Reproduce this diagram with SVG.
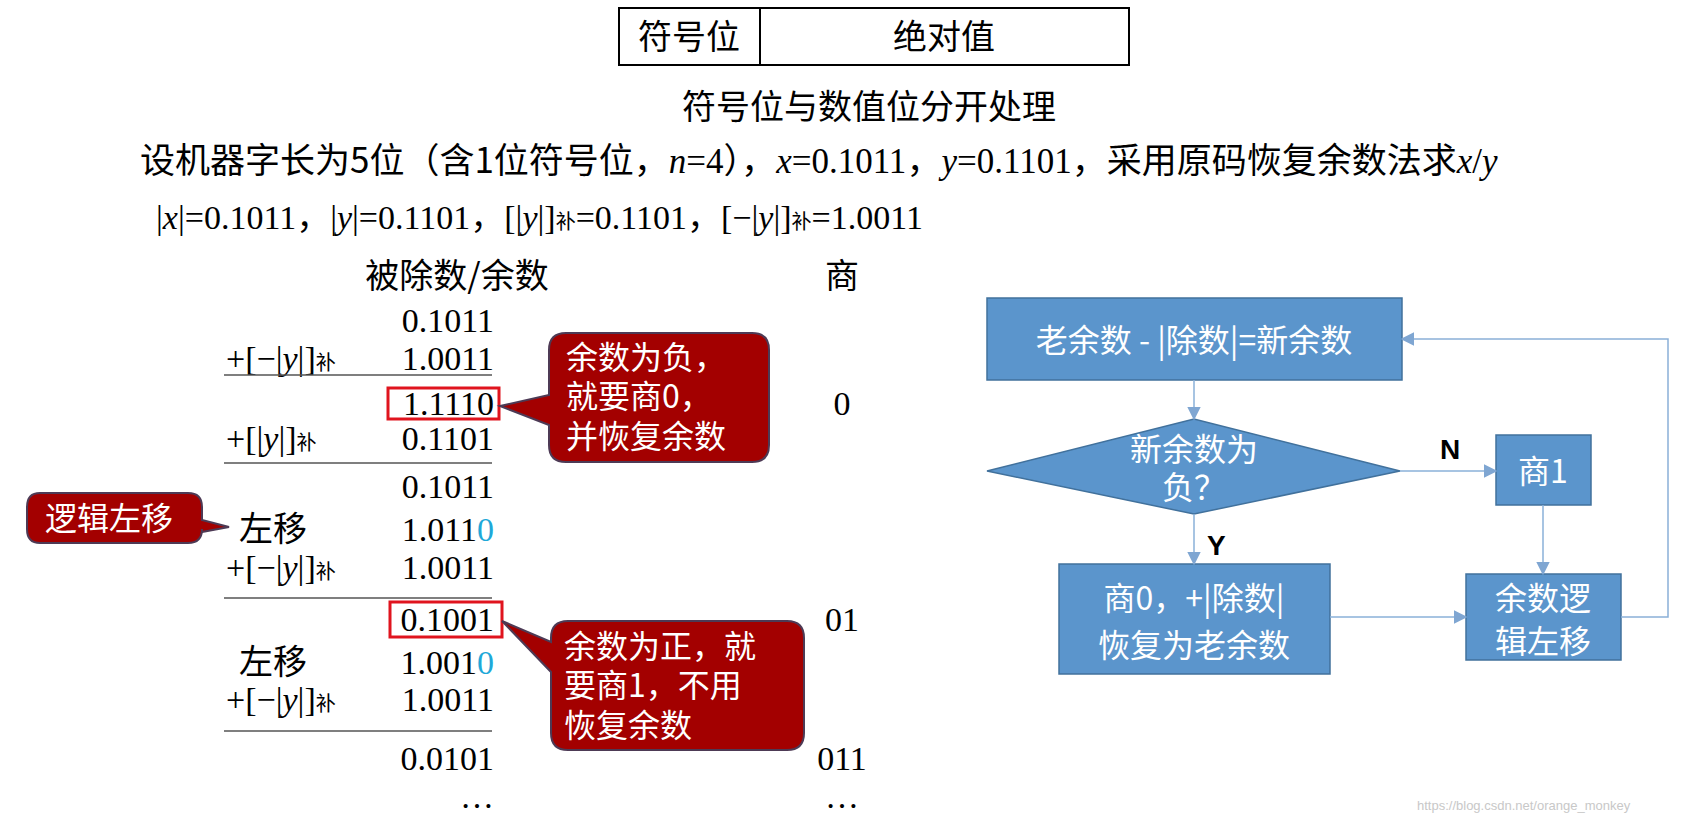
<svg xmlns="http://www.w3.org/2000/svg" width="1686" height="826" viewBox="0 0 1686 826">
<defs>
<style>
.t{font-family:"Liberation Serif","Noto Sans CJK SC",serif;font-size:34px;fill:#000}
.c{font-family:"Noto Sans CJK SC","Liberation Sans",sans-serif;fill:#000}
.w{font-family:"Noto Sans CJK SC","Liberation Sans",sans-serif;fill:#fff;font-size:32px}
.sub{font-size:20px}
.rule{stroke:#555;stroke-width:1.5}
.hb{fill:none;stroke:#e0141e;stroke-width:3}
.call{fill:#a30000;stroke:#4d3a55;stroke-width:2}
.fb{fill:#5b95cc;stroke:#41719c;stroke-width:1.5}
.fl{stroke:#8ab0d8;stroke-width:1.5;fill:none;marker-end:url(#ah)}
</style>
<marker id="ah" viewBox="0 0 10 10" refX="9" refY="5" markerWidth="9" markerHeight="9" orient="auto"><path d="M0,0L10,5L0,10z" fill="#7fa6d2"/></marker>
</defs>
<rect width="1686" height="826" fill="#fff"/>
<g id="header">
<rect x="619" y="8" width="510" height="57" fill="none" stroke="#000" stroke-width="2"/>
<line x1="760" y1="8" x2="760" y2="65" stroke="#000" stroke-width="2"/>
<text class="c" x="689" y="49" font-size="34" text-anchor="middle">符号位</text>
<text class="c" x="944" y="49" font-size="34" text-anchor="middle">绝对值</text>
<text class="c" x="869" y="119" font-size="34" text-anchor="middle">符号位与数值位分开处理</text>
<text class="c" x="140" y="173" font-size="35">设机器字长为5位（含1位符号位，<tspan font-family="Liberation Serif" font-style="italic">n</tspan><tspan font-family="Liberation Serif">=4</tspan>），<tspan font-family="Liberation Serif" font-style="italic">x</tspan><tspan font-family="Liberation Serif">=0.1011</tspan>，<tspan font-family="Liberation Serif" font-style="italic">y</tspan><tspan font-family="Liberation Serif">=0.1101</tspan>，采用原码恢复余数法求<tspan font-family="Liberation Serif" font-style="italic">x</tspan><tspan font-family="Liberation Serif">/</tspan><tspan font-family="Liberation Serif" font-style="italic">y</tspan></text>
<text class="t" x="156" y="229" font-size="34">|<tspan font-style="italic">x</tspan>|=0.1011，|<tspan font-style="italic">y</tspan>|=0.1101，[|<tspan font-style="italic">y</tspan>|]<tspan class="sub">补</tspan>=0.1101，[−|<tspan font-style="italic">y</tspan>|]<tspan class="sub">补</tspan>=1.0011</text>
</g>
<g id="division">
<text class="c" x="457" y="288" font-size="34" text-anchor="middle">被除数/余数</text>
<text class="c" x="842" y="288" font-size="34" text-anchor="middle">商</text>
<g class="t" text-anchor="end">
<text x="494" y="332">0.1011</text>
<text x="494" y="370">1.0011</text>
<text x="494" y="415">1.1110</text>
<text x="494" y="450">0.1101</text>
<text x="494" y="498">0.1011</text>
<text x="494" y="541">1.011<tspan fill="#1fa8d8">0</tspan></text>
<text x="494" y="579">1.0011</text>
<text x="494" y="631">0.1001</text>
<text x="494" y="674">1.001<tspan fill="#1fa8d8">0</tspan></text>
<text x="494" y="711">1.0011</text>
<text x="494" y="770">0.0101</text>
<text x="494" y="808">…</text>
</g>
<g class="t">
<text x="226" y="370">+[−|<tspan font-style="italic">y</tspan>|]<tspan class="sub">补</tspan></text>
<text x="226" y="450">+[|<tspan font-style="italic">y</tspan>|]<tspan class="sub">补</tspan></text>
<text x="226" y="579">+[−|<tspan font-style="italic">y</tspan>|]<tspan class="sub">补</tspan></text>
<text x="226" y="711">+[−|<tspan font-style="italic">y</tspan>|]<tspan class="sub">补</tspan></text>
</g>
<text class="c" x="239" y="541" font-size="34">左移</text>
<text class="c" x="239" y="674" font-size="34">左移</text>
<g class="t" text-anchor="middle">
<text x="842" y="415">0</text>
<text x="842" y="631">01</text>
<text x="842" y="770">011</text>
<text x="842" y="808">…</text>
</g>
<line class="rule" x1="224" y1="375" x2="492" y2="375"/>
<line class="rule" x1="224" y1="463" x2="492" y2="463"/>
<line class="rule" x1="224" y1="598" x2="492" y2="598"/>
<line class="rule" x1="224" y1="731" x2="492" y2="731"/>
<rect class="hb" x="388" y="388" width="111" height="31"/>
<rect class="hb" x="390" y="602" width="112" height="35"/>
</g>
<g id="callout1">
<path class="call" d="M566,333H752Q769,333 769,350V445Q769,462 752,462H566Q549,462 549,445V425L500,406L549,395V350Q549,333 566,333Z"/>
<text class="w" x="566" y="369">余数为负，</text>
<text class="w" x="566" y="408">就要商0，</text>
<text class="w" x="566" y="448">并恢复余数</text>
</g>
<g id="callout2">
<path class="call" d="M568,621H787Q804,621 804,638V733Q804,750 787,750H568Q551,750 551,733V672L502,621L551,642V638Q551,621 568,621Z"/>
<text class="w" x="564" y="658">余数为正，就</text>
<text class="w" x="564" y="697">要商1，不用</text>
<text class="w" x="564" y="737">恢复余数</text>
</g>
<g id="callout3">
<path class="call" d="M40,493H188Q202,493 202,507V520L229,527L202,532V529Q202,543 188,543H40Q27,543 27,529V507Q27,493 40,493Z"/>
<text class="w" x="45" y="530">逻辑左移</text>
</g>
<g id="n-top"><rect class="fb" x="987" y="298" width="415" height="82"/><text class="w" x="1194" y="352" text-anchor="middle" font-size="36">老余数 - |除数|=新余数</text></g>
<g id="n-dec"><polygon class="fb" points="987,471 1194,419 1400,471 1194,514"/><text class="w" x="1194" y="461" text-anchor="middle" font-size="30">新余数为</text><text class="w" x="1194" y="499" text-anchor="middle" font-size="30">负？</text></g>
<g id="n-q1"><rect class="fb" x="1496" y="435" width="95" height="70"/><text class="w" x="1543" y="483" text-anchor="middle" font-size="34">商1</text></g>
<g id="n-q0"><rect class="fb" x="1059" y="564" width="271" height="110"/><text class="w" x="1194" y="610" text-anchor="middle" font-size="35">商0，+|除数|</text><text class="w" x="1194" y="657" text-anchor="middle" font-size="35">恢复为老余数</text></g>
<g id="n-shift"><rect class="fb" x="1466" y="574" width="155" height="86"/><text class="w" x="1543" y="610" text-anchor="middle" font-size="35">余数逻</text><text class="w" x="1543" y="653" text-anchor="middle" font-size="35">辑左移</text></g>
<g id="connectors">
<line class="fl" x1="1194" y1="380" x2="1194" y2="419"/>
<line class="fl" x1="1400" y1="471" x2="1496" y2="471"/>
<line class="fl" x1="1194" y1="514" x2="1194" y2="564"/>
<line class="fl" x1="1543" y1="505" x2="1543" y2="574"/>
<line class="fl" x1="1330" y1="617" x2="1466" y2="617"/>
<polyline class="fl" points="1621,617 1668,617 1668,339 1402,339"/>
<text x="1440" y="459" font-family="Liberation Sans,sans-serif" font-size="28" font-weight="bold">N</text>
<text x="1207" y="555" font-family="Liberation Sans,sans-serif" font-size="28" font-weight="bold">Y</text>
</g>
<text x="1417" y="810" font-family="Liberation Sans,sans-serif" font-size="13" fill="#c8c8c8">https://blog.csdn.net/orange_monkey</text>
</svg>
